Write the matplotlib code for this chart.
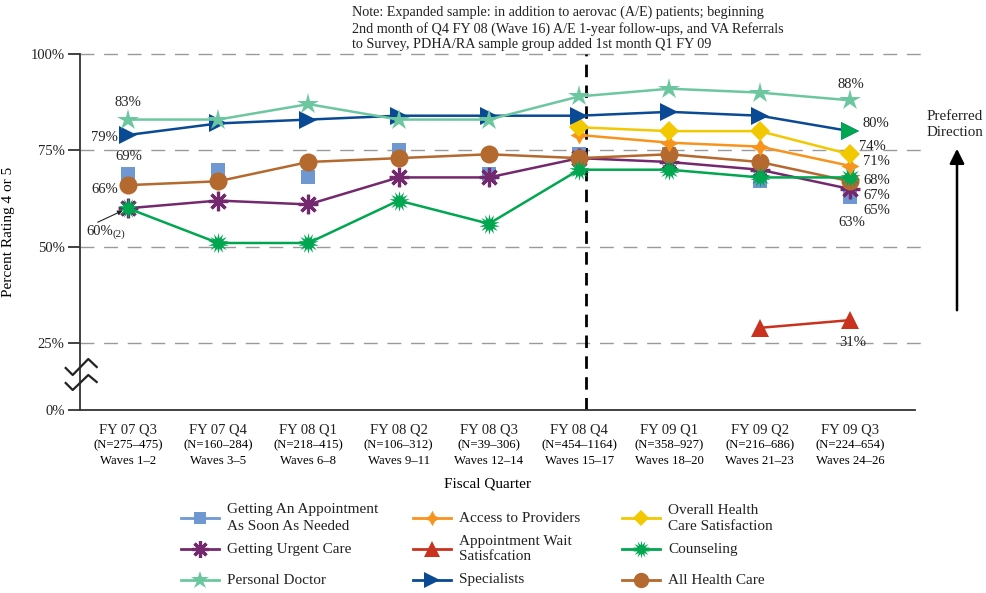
import numpy as np
import matplotlib
matplotlib.use("Agg")
import matplotlib.pyplot as plt
from matplotlib.lines import Line2D
from matplotlib.transforms import blended_transform_factory

plt.rcParams['font.family'] = ['Liberation Serif', 'DejaVu Serif']

# data
quarters = ['FY 07 Q3', 'FY 07 Q4', 'FY 08 Q1', 'FY 08 Q2', 'FY 08 Q3',
            'FY 08 Q4', 'FY 09 Q1', 'FY 09 Q2', 'FY 09 Q3']
sample_n = ['(N=275–475)', '(N=160–284)', '(N=218–415)', '(N=106–312)', '(N=39–306)',
            '(N=454–1164)', '(N=358–927)', '(N=216–686)', '(N=224–654)']
waves = ['Waves 1–2', 'Waves 3–5', 'Waves 6–8', 'Waves 9–11', 'Waves 12–14',
         'Waves 15–17', 'Waves 18–20', 'Waves 21–23', 'Waves 24–26']

nan = np.nan
getting_appt = [69, 70, 68, 75, 69, 74, 74, 67, 63]
urgent_care = [60, 62, 61, 68, 68, 73, 72, 70, 65]
all_health = [66, 67, 72, 73, 74, 73, 74, 72, 67]
counseling = [60, 51, 51, 62, 56, 70, 70, 68, 68]
access_providers = [nan, nan, nan, nan, nan, 79, 77, 76, 71]
overall_sat = [nan, nan, nan, nan, nan, 81, 80, 80, 74]
appt_wait = [nan, nan, nan, nan, nan, nan, nan, 29, 31]
specialists = [79, 82, 83, 84, 84, 84, 85, 84, 80]
personal_doctor = [83, 83, 87, 83, 83, 89, 91, 90, 88]

x = np.arange(len(quarters))

W, H = 987, 593
fig = plt.figure(figsize=(W / 100, H / 100), dpi=100)
ax = fig.add_axes([80 / W, 1 - 410 / H, 835 / W, 356 / H])

def fx(px):
    return px / W

def fy(py):
    return 1 - py / H

# styles
st = {
    'ga': dict(color='#6f98d3', marker='s', ms=10, mew=0),
    'ap': dict(color='#f7941d', marker=(4, 1, 0), ms=13, mew=0),
    'oh': dict(color='#f2c800', marker='D', ms=10, mew=0),
    'uc': dict(color='#74296e', marker=(8, 2, 0), ms=14, mew=2.3),
    'aw': dict(color='#c8321e', marker='^', ms=13, mew=0),
    'co': dict(color='#00a650', marker=(14, 1, 0), ms=15, mew=0),
    'pd': dict(color='#6cc7a0', marker='*', ms=16, mew=0),
    'sp': dict(color='#0a4a94', marker='>', ms=13, mew=0),
    'ah': dict(color='#b4692f', marker='o', ms=13, mew=0),
}

def draw(vals, key, line=True):
    s = st[key]
    ax.plot(x, np.array(vals, dtype=float), color=s['color'], lw=1.8 if line else 0,
            marker=s['marker'], ms=s['ms'], mfc=s['color'], mec=s['color'],
            mew=s['mew'], zorder=3)

# gridlines and axes
for g in [25, 50, 75, 100]:
    ax.plot([-0.53, 8.81], [g, g], color='#9a9a9a', lw=1, dashes=(10, 7),
            clip_on=False, zorder=1)
ax.axvline(5.07, color='black', lw=2, dashes=(4.5, 3), zorder=2)

draw(getting_appt, 'ga', line=False)
draw(urgent_care, 'uc')
draw(all_health, 'ah')
draw(counseling, 'co')
draw(access_providers, 'ap')
draw(overall_sat, 'oh')
draw(appt_wait, 'aw')
draw(specialists, 'sp')
draw(personal_doctor, 'pd')
# last specialists marker appears in green in the original
ax.plot(x[-1], specialists[-1], marker='>', ms=13, color=st['co']['color'], mew=0, zorder=4)

ax.set_xlim(-0.53, 8.72)
ax.set_ylim(7.7, 100)
ax.set_yticks([7.7, 25, 50, 75, 100], ['0%', '25%', '50%', '75%', '100%'])
ax.tick_params(axis='y', length=9, width=1.2, labelsize=10.5, pad=2, colors='#222222')
ax.set_xticks(x, quarters)
ax.tick_params(axis='x', length=0, pad=10, labelsize=10.5, colors='#222222')
for sp in ['top', 'right']:
    ax.spines[sp].set_visible(False)
for sp in ['left', 'bottom']:
    ax.spines[sp].set_linewidth(1.3)
    ax.spines[sp].set_color('#333333')

bt = blended_transform_factory(ax.transData, ax.transAxes)
for i in x:
    ax.annotate(sample_n[i], xy=(i, 0), xycoords=bt, xytext=(0, -35),
                textcoords='offset pixels', ha='center', va='center', fontsize=9.2)
    ax.annotate(waves[i], xy=(i, 0), xycoords=bt, xytext=(0, -51),
                textcoords='offset pixels', ha='center', va='center', fontsize=9.2)

ax.set_xlabel('Fiscal Quarter', fontsize=11)
ax.xaxis.set_label_coords((488 - 80) / 835, -0.19)
ax.set_ylabel('Percent Rating 4 or 5', fontsize=11)
ax.yaxis.set_label_coords(-0.078, 0.5)

# axis break marks
ba = blended_transform_factory(ax.transAxes, ax.transData)
def brk(ys):
    xs = [(p - 80) / 835 for p in [65.7, 72.7, 88.3, 96.7]]
    vs = [100 - (p - 54) * 92.3 / 356 for p in ys]
    ax.add_line(Line2D(xs, vs, transform=ba, color='#222222', lw=1.6, clip_on=False, zorder=5))
brk([368, 375, 359, 367])
brk([383, 390, 375, 382])

# value labels
def lab(vals, idx, off, ha='center', va='center'):
    ax.annotate(f"{vals[idx]:.0f}%", xy=(x[idx], vals[idx]), xytext=off,
                textcoords='offset pixels', ha=ha, va=va, fontsize=10.5, color='#222222')

lab(personal_doctor, 0, (0, 17))
lab(specialists, 0, (-10, -3), ha='right')
lab(getting_appt, 0, (1, 17))
lab(all_health, 0, (-10, -4), ha='right')
ax.annotate('', xy=(x[0] - 0.03, counseling[0] - 0.3), xytext=(-30, -14),
            textcoords='offset pixels',
            arrowprops=dict(arrowstyle='-|>', color='#222222', lw=0.8, mutation_scale=7))
ax.annotate(f"{counseling[0]:.0f}%", xy=(x[0], counseling[0]), xytext=(-15, -23),
            textcoords='offset pixels', ha='right', va='center', fontsize=10.5, color='#222222')
ax.annotate('(2)', xy=(x[0], counseling[0]), xytext=(-15, -26),
            textcoords='offset pixels', ha='left', va='center', fontsize=8, color='#222222')

lab(personal_doctor, -1, (1, 16))
lab(specialists, -1, (12, 8), ha='left')
lab(overall_sat, -1, (9, 8), ha='left')
lab(access_providers, -1, (13, 4), ha='left')
lab(counseling, -1, (13, -3), ha='left')
lab(all_health, -1, (13, -14), ha='left')
lab(urgent_care, -1, (13, -22), ha='left')
lab(getting_appt, -1, (2, -26))
lab(appt_wait, -1, (3, -22))

# note and preferred direction
fig.text(fx(352), fy(6), 'Note: Expanded sample: in addition to aerovac (A/E) patients; beginning\n'
         '2nd month of Q4 FY 08 (Wave 16) A/E 1-year follow-ups, and VA Referrals\n'
         'to Survey, PDHA/RA sample group added 1st month Q1 FY 09',
         ha='left', va='top', fontsize=10.2, linespacing=1.22, color='#222222')
fig.text(fx(955), fy(125), 'Preferred\nDirection', ha='center', va='center',
         fontsize=10.8, linespacing=1.3, color='#222222')
fig.add_artist(matplotlib.patches.FancyArrowPatch((fx(957), fy(313)), (fx(957), fy(146)),
               transform=fig.transFigure, arrowstyle='-|>', mutation_scale=22,
               lw=1.8, color='black'))

# legend drawn by hand so the rows line up across columns
legend_rows = [
    [('ga', 'Getting An Appointment\nAs Soon As Needed'), ('ap', 'Access to Providers'),
     ('oh', 'Overall Health\nCare Satisfaction')],
    [('uc', 'Getting Urgent Care'), ('aw', 'Appointment Wait\nSatisfcation'), ('co', 'Counseling')],
    [('pd', 'Personal Doctor'), ('sp', 'Specialists'), ('ah', 'All Health Care')],
]
col_x = [200, 432, 641]
row_y = [518, 549, 580]
for r, row in enumerate(legend_rows):
    for c, (key, text) in enumerate(row):
        s = st[key]
        cx, cy = col_x[c], row_y[r]
        ms = s['ms'] * 0.85
        fig.add_artist(Line2D([fx(cx - 19), fx(cx), fx(cx + 19)], [fy(cy)] * 3,
                              transform=fig.transFigure, color=s['color'], lw=2,
                              marker=s['marker'], markevery=[1], ms=ms,
                              mfc=s['color'], mec=s['color'], mew=s['mew']))
        fig.text(fx(cx + 27), fy(cy), text, ha='left', va='center', fontsize=11,
                 linespacing=1.3, color='#222222')

fig.savefig('out.png', dpi=100)
